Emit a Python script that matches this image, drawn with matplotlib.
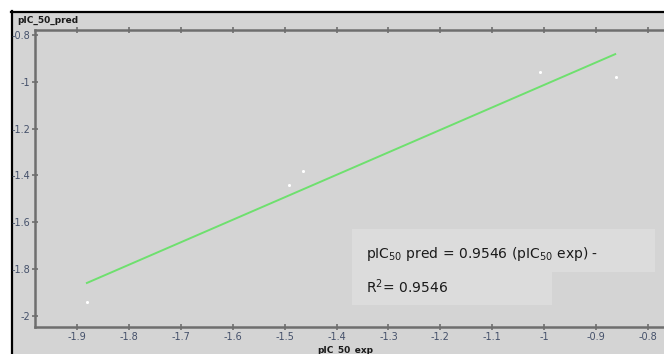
import matplotlib
matplotlib.use("Agg")
import matplotlib.pyplot as plt
from matplotlib.patches import Rectangle
from matplotlib.lines import Line2D

# observed vs predicted pIC50
exp_vals = [-1.881, -1.492, -1.465, -1.008, -0.862]
pred_vals = [-1.940, -1.439, -1.383, -0.959, -0.981]

# regression line end points
fit_x = [-1.881, -0.863]
fit_y = [-1.859, -0.882]

xticks = [-1.9, -1.8, -1.7, -1.6, -1.5, -1.4, -1.3, -1.2, -1.1, -1.0, -0.9, -0.8]
xtick_labels = ["-1.9", "-1.8", "-1.7", "-1.6", "-1.5", "-1.4", "-1.3", "-1.2",
                "-1.1", "-1", "-0.9", "-0.8"]
yticks = [-2.0, -1.8, -1.6, -1.4, -1.2, -1.0, -0.8]
ytick_labels = ["-2", "-1.8", "-1.6", "-1.4", "-1.2", "-1", "-0.8"]

W, H = 664, 354
BG = "#d4d4d4"
SPINE = "#6e6e6e"
TICKTXT = "#44506a"

fig = plt.figure(figsize=(W / 100, H / 100), dpi=100)
fig.patch.set_facecolor("white")

# grey panel with black top/left frame
fig.patches.append(Rectangle((12 / W, 0), 1, 1 - 12 / H, transform=fig.transFigure,
                             facecolor=BG, edgecolor="none", zorder=-2))
fig.lines.append(Line2D([11 / W, 1], [1 - 11.5 / H, 1 - 11.5 / H], transform=fig.transFigure,
                        color="black", linewidth=1.6, zorder=-1))
fig.lines.append(Line2D([11.5 / W, 11.5 / W], [0, 1 - 11 / H], transform=fig.transFigure,
                        color="black", linewidth=1.6, zorder=-1))

ax_l, ax_r, ax_t, ax_b = 35, 664, 30, 327
ax = fig.add_axes([ax_l / W, 1 - ax_b / H, (ax_r - ax_l) / W, (ax_b - ax_t) / H])
ax.set_facecolor(BG)

ax.plot(fit_x, fit_y, color="#6ee06e", linewidth=1.4, zorder=2)
ax.scatter(exp_vals, pred_vals, s=5, color="white", zorder=3, linewidths=0)

ax.set_xlim(-1.981, -0.769)
ax.set_ylim(-2.047, -0.779)

ax.set_xticks(xticks)
ax.set_xticklabels(xtick_labels)
ax.set_yticks(yticks)
ax.set_yticklabels(ytick_labels)

for side in ["left", "bottom", "top"]:
    ax.spines[side].set_color(SPINE)
    ax.spines[side].set_linewidth(1.8)
ax.spines["right"].set_visible(False)

ax.tick_params(axis="both", direction="inout", length=5, width=1.2, color=SPINE,
               labelsize=7, labelcolor=TICKTXT, pad=1)
ax.tick_params(axis="x", top=True, labeltop=False)

# equation box
ax.add_patch(Rectangle((352 / W, 1 - 272 / H), (655 - 352) / W, (272 - 229) / H,
                       transform=fig.transFigure, facecolor="#dcdcdc",
                       edgecolor="none", zorder=1))
ax.add_patch(Rectangle((352 / W, 1 - 305 / H), (552 - 352) / W, (305 - 272) / H,
                       transform=fig.transFigure, facecolor="#dcdcdc",
                       edgecolor="none", zorder=1))
fig.text(366 / W, 1 - 254 / H, r"pIC$_{50}$ pred = 0.9546 (pIC$_{50}$ exp) -",
         fontsize=10, color="#1a1a1a", va="center", ha="left")
fig.text(366 / W, 1 - 287 / H, r"R$^{2}$= 0.9546",
         fontsize=10, color="#1a1a1a", va="center", ha="left")

fig.text(17 / W, 1 - 20 / H, "pIC_50_pred", fontsize=6.5, fontweight="bold",
         color="#1a1a1a", va="center", ha="left")
fig.text(345 / W, 1 - 350 / H, "pIC_50_exp", fontsize=6.5, fontweight="bold",
         color="#1a1a1a", va="center", ha="center")

fig.savefig("out.png", dpi=100, facecolor=fig.get_facecolor())
